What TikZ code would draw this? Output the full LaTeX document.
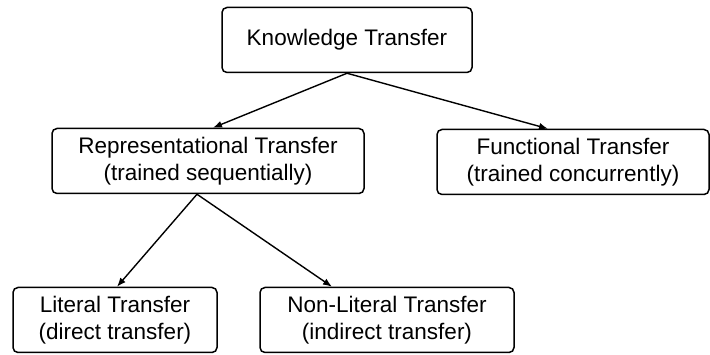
\documentclass[tikz,border=0pt]{standalone}
\usepackage{fontspec}
\setmainfont{Liberation Sans}
\usetikzlibrary{arrows.meta}

\begin{document}
\begin{tikzpicture}[x=1pt, y=-1pt,
  box/.style={draw, rounded corners=5pt, line width=1.5pt, align=center,
    inner sep=0pt, minimum height=65pt, font=\fontsize{22.5}{27}\selectfont},
  link/.style={-{Latex[length=9pt,width=7pt]}, line width=1.4pt}]
\useasboundingbox (0,0) rectangle (710,355);
\node[box, minimum width=250pt](KT) at (347, 40) {Knowledge Transfer};
\node[box, minimum width=312pt](Rep) at (208, 161) {Representational Transfer\\(trained sequentially)};
\node[box, minimum width=272pt](Func) at (573, 162) {Functional Transfer\\(trained concurrently)};
\node[box, minimum width=204pt](Lit) at (115, 320) {Literal Transfer\\(direct transfer)};
\node[box, minimum width=254pt](NonLit) at (387, 320) {Non-Literal Transfer\\(indirect transfer)};
\draw[link] (KT.south) -- ([xshift=5pt]Rep.north);
\draw[link] (KT.south) -- ([xshift=-25pt]Func.north);
\draw[link] ([xshift=-11pt]Rep.south) -- ([xshift=2pt]Lit.north);
\draw[link] ([xshift=-11pt]Rep.south) -- ([xshift=-55pt]NonLit.north);
\end{tikzpicture}
\end{document}
